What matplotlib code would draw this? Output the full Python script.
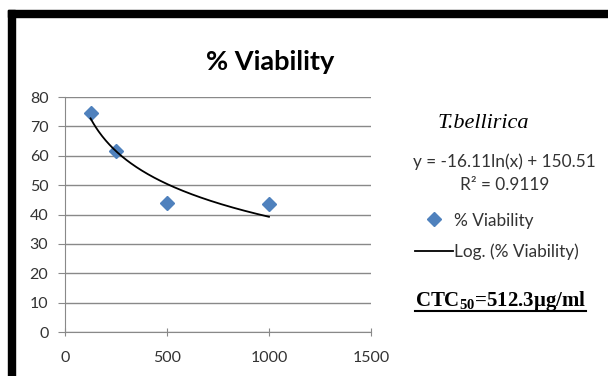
import numpy as np
import matplotlib.pyplot as plt
from matplotlib.lines import Line2D
from matplotlib.patches import Rectangle

# concentration (ug/ml) vs % viability
conc = [125, 250, 500, 1000]
viability = [74.5, 61.5, 44.0, 43.5]

# log trendline as reported: y = a*ln(x) + b
fit_a = -16.11
fit_b = 150.51
r2 = 0.9119

xticks = [0, 500, 1000, 1500]
yticks = [0, 10, 20, 30, 40, 50, 60, 70, 80]

blue = '#4F81BD'
grid_gray = '#898989'
txt = '#333333'

plt.rcParams['font.family'] = ['Lato', 'DejaVu Sans']
plt.rcParams['mathtext.fontset'] = 'custom'
plt.rcParams['mathtext.bf'] = 'Liberation Serif:bold'
plt.rcParams['mathtext.rm'] = 'Liberation Serif:bold'

fig = plt.figure(figsize=(6.08, 3.76), dpi=100)
ax = fig.add_axes([0.107, 0.117, 0.503, 0.625])

# black frame (top and left edges of the pasted chart)
fig.patches.append(Rectangle((8 / 608, 0), 7 / 608, 1 - 10 / 376,
                             transform=fig.transFigure, color='black'))
fig.patches.append(Rectangle((8 / 608, 1 - 17 / 376), 1, 7 / 376,
                             transform=fig.transFigure, color='black'))

ax.plot(conc, viability, linestyle='none', marker='D', markersize=7.5,
        color=blue, zorder=3, label='% Viability')
xs = np.linspace(min(conc), max(conc), 200)
ax.plot(xs, fit_a * np.log(xs) + fit_b, color='black', lw=1.3, zorder=4,
        label='Log. (% Viability)')

ax.set_xlim(0, 1500)
ax.set_ylim(0, 80)
ax.set_xticks(xticks)
ax.set_yticks(yticks)
ax.yaxis.grid(True, color=grid_gray, lw=1.0)
ax.set_axisbelow(True)
for s in ['top', 'right']:
    ax.spines[s].set_visible(False)
for s in ['left', 'bottom']:
    ax.spines[s].set_color(grid_gray)
ax.tick_params(axis='both', colors=grid_gray, labelcolor=txt, labelsize=11.5)
ax.tick_params(axis='y', length=5, direction='out', pad=7)
ax.tick_params(axis='x', length=6, direction='inout', pad=11)

fig.text(0.444, 0.835, '% Viability', ha='center', va='center',
         fontsize=19.5, fontweight='bold', color='black')

fig.text(0.795, 0.672, 'T.bellirica', ha='center', va='center',
         family='Liberation Serif', style='italic', fontsize=16, color='black')
fig.text(0.83, 0.569, f'y = {fit_a:.2f}ln(x) + {fit_b:.2f}', ha='center',
         va='center', fontsize=12.4, color=txt)
fig.text(0.83, 0.508, f'R² = {r2:.4f}', ha='center', va='center',
         fontsize=12.4, color=txt)

handles = [
    Line2D([], [], linestyle='none', marker='D', markersize=7, color=blue),
    Line2D([], [], color='black', lw=1.3),
]
fig.legend(handles, ['% Viability', 'Log. (% Viability)'],
           loc='center left', bbox_to_anchor=(0.672, 0.372), frameon=False,
           fontsize=12.4, labelcolor=txt, handlelength=2.2, handletextpad=0.05,
           labelspacing=0.85, borderaxespad=0)

ctc = fig.text(0.683, 0.2, r'CTC$\mathregular{_{50}}$=512.3μg/ml', ha='left',
               va='center', family='Liberation Serif', fontweight='bold',
               fontsize=15, color='black')

# underline the CTC text
fig.canvas.draw()
bb = ctc.get_window_extent().transformed(fig.transFigure.inverted())
fig.add_artist(Line2D([bb.x0, bb.x1], [bb.y0 + 0.004, bb.y0 + 0.004],
                      transform=fig.transFigure, color='black', lw=1.5))

fig.savefig('out.png', dpi=100)
